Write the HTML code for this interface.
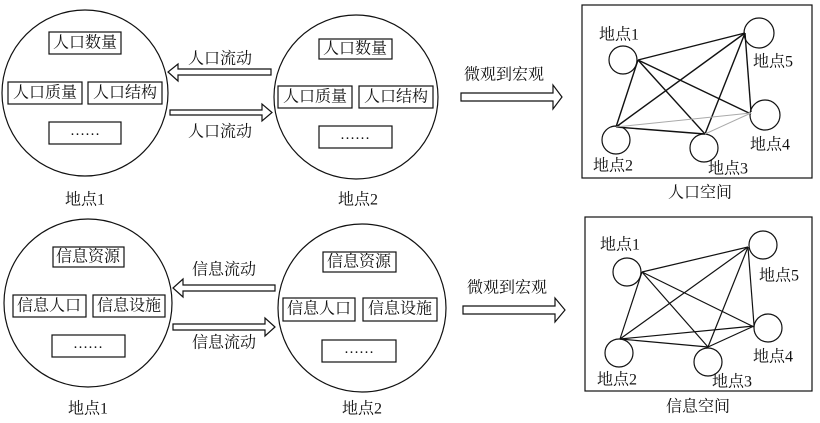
<!DOCTYPE html>
<html><head><meta charset="utf-8"><style>
body{margin:0;background:#fff}
svg text{font-family:"Liberation Serif","Noto Serif CJK SC",serif;font-size:15px;fill:#111}
svg text.b{font-size:16px}
</style></head><body>
<svg width="820" height="418" viewBox="0 0 820 418" xmlns="http://www.w3.org/2000/svg">
<g fill="none" stroke="#111" stroke-width="1.2">
<circle cx="85" cy="93" r="83"/>
<circle cx="356" cy="97" r="82"/>
<rect x="49" y="32" width="72" height="22"/>
<rect x="8" y="82" width="74" height="22"/>
<rect x="88" y="82" width="74" height="22"/>
<rect x="49" y="122" width="72" height="22"/>
<rect x="319" y="39" width="73" height="20"/>
<rect x="278" y="86" width="74" height="22"/>
<rect x="359" y="86" width="74" height="22"/>
<rect x="319" y="126" width="73" height="22"/>
<path d="M271,69 L178,69 L178,64 L168,72 L178,81 L178,75 L271,75 Z"/>
<path d="M170,110 L262,110 L262,104 L272,112.5 L262,121 L262,115 L170,115 Z"/>
<path d="M461,93 L553,93 L553,85 L562,97 L553,109 L553,101 L461,101 Z"/>
<circle cx="88" cy="303" r="84"/>
<circle cx="362" cy="308" r="84"/>
<rect x="53" y="247" width="71" height="20"/>
<rect x="13" y="295" width="73" height="22"/>
<rect x="93" y="295" width="72" height="22"/>
<rect x="52" y="335" width="73" height="22"/>
<rect x="323" y="252" width="73" height="20"/>
<rect x="283" y="298" width="72" height="23"/>
<rect x="363" y="298" width="74" height="23"/>
<rect x="322" y="340" width="74" height="22"/>
<path d="M275,285 L183,285 L183,279 L173,288 L183,297 L183,291 L275,291 Z"/>
<path d="M173,324 L265,324 L265,318 L275,327 L265,336 L265,330 L173,330 Z"/>
<path d="M463,306 L555,306 L555,298 L565,310 L555,322 L555,314 L463,314 Z"/>
<rect x="582" y="5" width="230" height="173"/>
<circle cx="623" cy="60" r="14"/>
<circle cx="759" cy="33" r="15"/>
<circle cx="765" cy="115" r="15"/>
<circle cx="616" cy="140" r="14"/>
<circle cx="704" cy="148" r="14"/>
<g stroke-width="1.4">
<line x1="638" y1="60" x2="745" y2="33"/>
<line x1="638" y1="60" x2="616" y2="127"/>
<line x1="638" y1="60" x2="705" y2="134"/>
<line x1="638" y1="60" x2="751" y2="114"/>
<line x1="616" y1="127" x2="745" y2="33"/>
<line x1="705" y1="134" x2="745" y2="33"/>
<line x1="745" y1="33" x2="751" y2="112"/>
<line x1="616" y1="127" x2="705" y2="134"/>
</g>
<g stroke="#aaa" stroke-width="1">
<line x1="616" y1="127" x2="751" y2="113"/>
<line x1="705" y1="134" x2="751" y2="113"/>
</g>
<rect x="585" y="217" width="227" height="174"/>
<circle cx="627" cy="272" r="14"/>
<circle cx="763" cy="245" r="14"/>
<circle cx="768" cy="328" r="14"/>
<circle cx="619" cy="353" r="14"/>
<circle cx="708" cy="362" r="14"/>
<g stroke-width="1.2">
<line x1="642" y1="272" x2="748" y2="247"/>
<line x1="642" y1="272" x2="620" y2="339"/>
<line x1="642" y1="272" x2="708" y2="347"/>
<line x1="642" y1="272" x2="754" y2="327"/>
<line x1="620" y1="339" x2="748" y2="247"/>
<line x1="708" y1="347" x2="748" y2="247"/>
<line x1="748" y1="247" x2="754" y2="325"/>
<line x1="620" y1="339" x2="708" y2="347"/>
<line x1="620" y1="339" x2="754" y2="326"/>
<line x1="708" y1="347" x2="754" y2="326"/>
</g>
</g>
<g text-anchor="middle" dominant-baseline="central">
<text class="b" x="85" y="43">人口数量</text>
<text class="b" x="45" y="93">人口质量</text>
<text class="b" x="125" y="93">人口结构</text>
<text x="85" y="131" font-size="14">……</text>
<text class="b" x="355" y="49">人口数量</text>
<text class="b" x="315" y="97">人口质量</text>
<text class="b" x="396" y="97">人口结构</text>
<text x="355" y="135" font-size="14">……</text>
<text class="b" x="220" y="59">人口流动</text>
<text class="b" x="220" y="132">人口流动</text>
<text class="b" x="85" y="200">地点1</text>
<text class="b" x="358" y="200">地点2</text>
<text class="b" x="504" y="75">微观到宏观</text>
<text class="b" x="700" y="193">人口空间</text>
<text class="b" x="619" y="35">地点1</text>
<text class="b" x="773" y="62">地点5</text>
<text class="b" x="770" y="145">地点4</text>
<text class="b" x="613" y="166">地点2</text>
<text class="b" x="728" y="169">地点3</text>

<text class="b" x="88" y="257">信息资源</text>
<text class="b" x="49" y="306">信息人口</text>
<text class="b" x="129" y="306">信息设施</text>
<text x="88" y="344" font-size="14">……</text>
<text class="b" x="359" y="262">信息资源</text>
<text class="b" x="319" y="309">信息人口</text>
<text class="b" x="400" y="309">信息设施</text>
<text x="359" y="349" font-size="14">……</text>
<text class="b" x="224" y="270">信息流动</text>
<text class="b" x="224" y="343">信息流动</text>
<text class="b" x="88" y="409">地点1</text>
<text class="b" x="362" y="409">地点2</text>
<text class="b" x="507" y="288">微观到宏观</text>
<text class="b" x="698" y="407">信息空间</text>
<text class="b" x="620" y="245">地点1</text>
<text class="b" x="779" y="276">地点5</text>
<text class="b" x="773" y="357">地点4</text>
<text class="b" x="617" y="380">地点2</text>
<text class="b" x="732" y="382">地点3</text>
</g>
</svg>
</body></html>
